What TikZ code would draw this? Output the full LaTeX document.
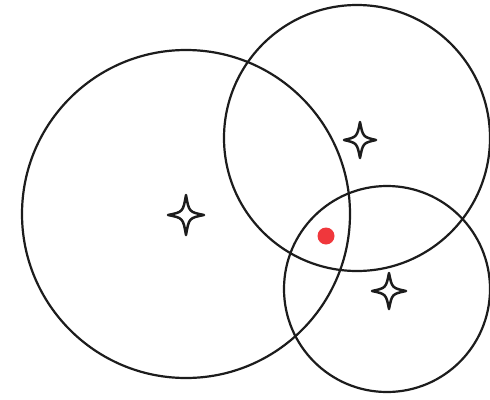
\documentclass[tikz,border=0pt]{standalone}
\usepackage{tikz}
\definecolor{ringcol}{RGB}{28,28,28}
\definecolor{dotred}{RGB}{240,55,60}
\tikzset{
  ring/.style={draw=ringcol, line width=2.2pt},
  starshape/.style={draw=ringcol, fill=white, line width=2.5pt, line join=round},
  reddot/.style={fill=dotred, draw=none}
}
\newcommand{\fourstar}[4]{% x y halfwidth halfheight
  \path[starshape] (#1+#3,#2) .. controls (#1+3,#2+3) .. (#1,#2+#4)
    .. controls (#1-3,#2+3) .. (#1-#3,#2)
    .. controls (#1-3,#2-3) .. (#1,#2-#4)
    .. controls (#1+3,#2-3) .. cycle;}
\begin{document}
\begin{tikzpicture}[x=1pt,y=-1pt]
\useasboundingbox (0,0) rectangle (490,399);
\fill[white] (0,0) rectangle (490,399);
\coordinate (cA) at (186,214);
\coordinate (cB) at (357,138);
\coordinate (cC) at (387,289);
\draw[ring] (cA) circle[radius=164];
\draw[ring] (cB) circle[radius=133];
\draw[ring] (cC) circle[radius=103];
\fourstar{186}{215}{18}{20}
\fourstar{360}{140}{16}{18}
\fourstar{389}{291}{17}{18}
\fill[reddot] (326,236) circle[radius=8.5];
\end{tikzpicture}
\end{document}
